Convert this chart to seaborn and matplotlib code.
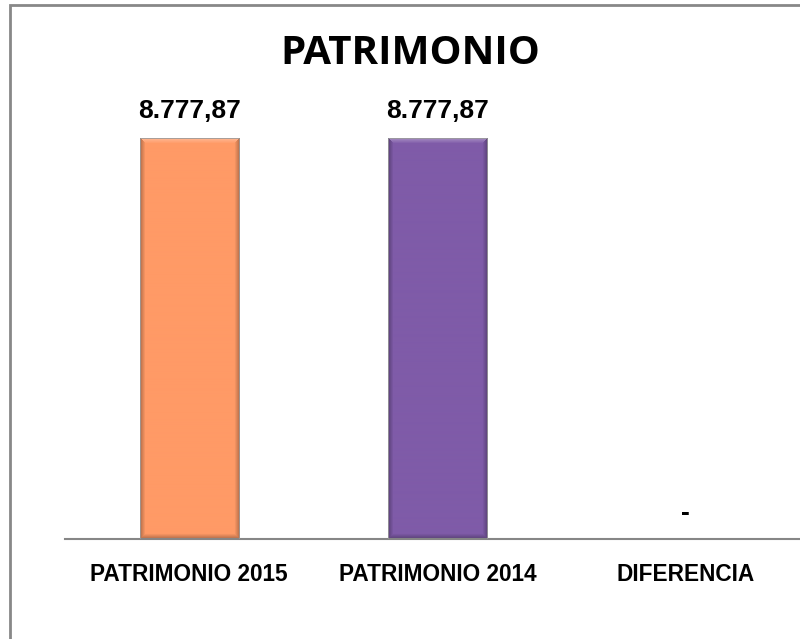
import numpy as np
import pandas as pd
import matplotlib
matplotlib.use("Agg")
import matplotlib.pyplot as plt
import matplotlib.colors as mcolors
from matplotlib.patches import Rectangle
import seaborn as sns

# ----------------------------
# Data
# ----------------------------
categories = ["PATRIMONIO 2015", "PATRIMONIO 2014", "DIFERENCIA"]
values = [8777.87, 8777.87, 0.0]
bar_colors = ["#FF9A66", "#7F5BA8", "#FFFFFF"]

df = pd.DataFrame({"Categoria": categories, "Valor": values})


def fmt_es(v):
    if v == 0:
        return "-"
    s = f"{v:,.2f}"
    return s.replace(",", "X").replace(".", ",").replace("X", ".")


sns.set_style("white")
plt.rcParams["font.family"] = ["Liberation Sans", "DejaVu Sans"]

fig = plt.figure(figsize=(8, 6.39), dpi=100)
ax = fig.add_axes([65 / 800, 1 - 539 / 639, 745 / 800, (539 - 82) / 639])

sns.barplot(data=df, x="Categoria", y="Valor", hue="Categoria",
            palette=bar_colors, width=0.4, legend=False, ax=ax,
            edgecolor="none")
ax.set_ylim(0, 10000)
ax.set_xlim(-0.5, 2.5)

# bevel look on bars: flat face, light top edge, darker sides/bottom
for patch, c in zip(ax.patches, bar_colors):
    h = patch.get_height()
    if h <= 0:
        continue
    x0 = patch.get_x()
    w = patch.get_width()
    base = np.array(mcolors.to_rgb(c))
    nx, ny = 100, 400
    img = np.tile(base, (ny, nx, 1))
    b = 6
    ramp = np.linspace(0.72, 1.0, b)
    for k in range(b):
        img[:, k] = base * ramp[k]
        img[:, nx - 1 - k] = base * ramp[k]
    for k in range(b):
        img[ny - 1 - k, k:nx - k] = base * ramp[k]
        img[k, k:nx - k] = np.clip(base + (1 - base) * (0.35 * (1 - k / b)), 0, 1)
    im = ax.imshow(img, extent=[x0, x0 + w, 0, h], aspect="auto",
                   origin="upper", zorder=2, interpolation="bilinear")
    im.set_clip_path(patch)
    patch.set_facecolor("none")
    patch.set_zorder(3)
    patch.set_edgecolor("#9a9a9a")
    patch.set_linewidth(0.6)

for i, v in enumerate(values):
    ax.annotate(fmt_es(v), (i, v), xytext=(0, 19), textcoords="offset points",
                ha="center", va="center", fontsize=19, fontweight="bold",
                color="black")

ax.set_xlabel("")
ax.set_ylabel("")
ax.set_yticks([])
ax.tick_params(axis="x", length=0, pad=17, labelsize=16.3, labelcolor="black")
for lab in ax.get_xticklabels():
    lab.set_fontweight("bold")
for s in ["top", "right", "left"]:
    ax.spines[s].set_visible(False)
ax.spines["bottom"].set_color("#868686")
ax.spines["bottom"].set_linewidth(1.5)

fig.text(410 / 800, 1 - 53 / 639, "PATRIMONIO", ha="center", va="center",
         fontsize=29, fontweight="bold", color="black",
         family=["Open Sans", "DejaVu Sans"])

# chart border
fig.add_artist(Rectangle((10 / 800, -0.1), 1.2, 1 - 5 / 639 + 0.1,
                         transform=fig.transFigure, fill=False,
                         edgecolor="#888888", linewidth=2))

fig.savefig("out.png", dpi=100)
